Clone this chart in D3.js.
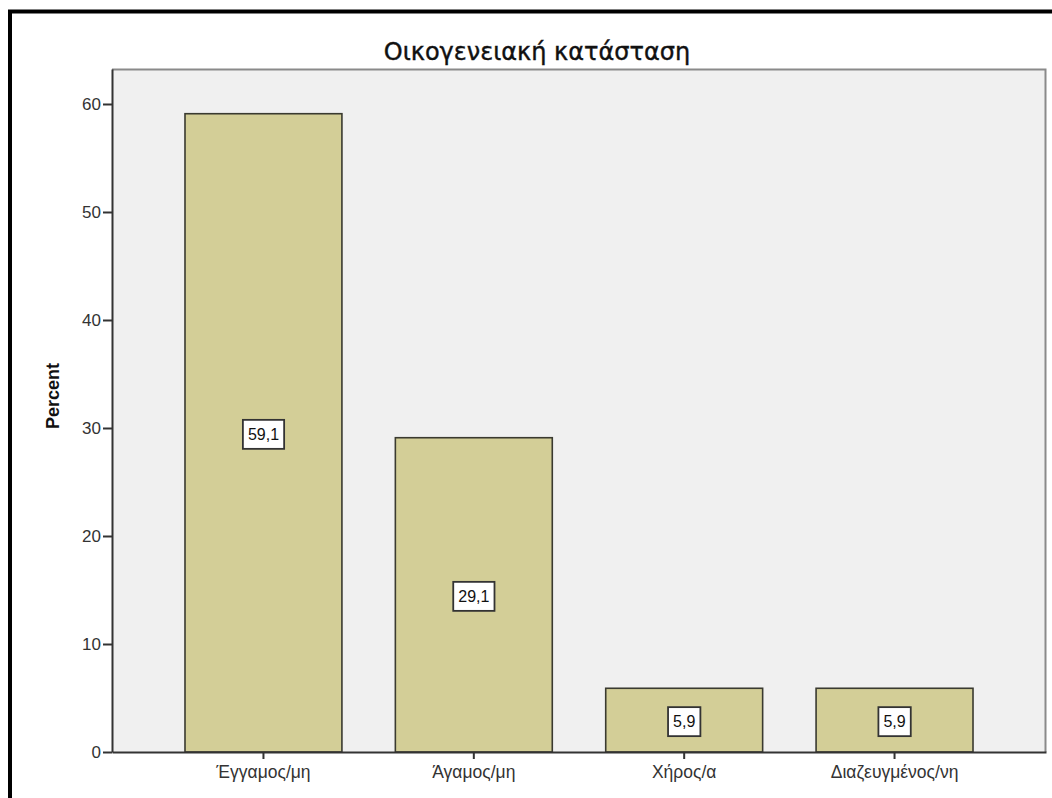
<!DOCTYPE html>
<html>
<head>
<meta charset="utf-8">
<script src="https://cdn.jsdelivr.net/npm/d3@7"></script>
<style>
  html, body { margin: 0; padding: 0; background: #fff; }
  svg { display: block; }
</style>
</head>
<body>
<svg id="chart" width="1052" height="798"></svg>
<script>
const categories = ["Έγγαμος/μη", "Άγαμος/μη", "Χήρος/α", "Διαζευγμένος/νη"];
const percentValues = [59.1, 29.1, 5.9, 5.9];
const valueLabels = ["59,1", "29,1", "5,9", "5,9"];
const yTickValues = [0, 10, 20, 30, 40, 50, 60];
const chartTitle = "Οικογενειακή κατάσταση";
const yAxisTitle = "Percent";

const svg = d3.select("#chart");
const W = 1052, H = 798;
const plot = { left: 112, right: 1046, top: 69, bottom: 752 };
const FONT = "Liberation Sans, Arial, sans-serif";

// outer frame
svg.append("rect")
  .attr("x", 10).attr("y", 11.5)
  .attr("width", W + 20).attr("height", H + 20)
  .attr("fill", "#fff").attr("stroke", "#000").attr("stroke-width", 4);

const x = d3.scaleBand()
  .domain(categories)
  .range([plot.left, plot.right])
  .paddingInner(0.254)
  .paddingOuter(0.347);

const y = d3.scaleLinear()
  .domain([0, 63.24])
  .range([plot.bottom, plot.top]);

// plot background
svg.append("rect")
  .attr("x", plot.left).attr("y", plot.top)
  .attr("width", plot.right - plot.left).attr("height", plot.bottom - plot.top)
  .attr("fill", "#f0f0f0");

// top & right border (gray)
svg.append("path")
  .attr("d", `M${plot.left},${plot.top + 0.5}H${plot.right - 0.5}V${plot.bottom}`)
  .attr("fill", "none").attr("stroke", "#8a8a8a").attr("stroke-width", 2);

// bars
const data = categories.map((c, i) => ({ c, v: percentValues[i], lab: valueLabels[i] }));
svg.append("g").selectAll("rect").data(data).join("rect")
  .attr("x", d => x(d.c))
  .attr("y", d => y(d.v))
  .attr("width", x.bandwidth())
  .attr("height", d => y(0) - y(d.v))
  .attr("fill", "#d3ce97")
  .attr("stroke", "#3a3a30")
  .attr("stroke-width", 1.6);

// value labels
const lg = svg.append("g").selectAll("g").data(data).join("g")
  .attr("transform", d => `translate(${x(d.c) + x.bandwidth() / 2},${(y(d.v) + y(0)) / 2 + 1.5})`);
lg.append("text")
  .attr("text-anchor", "middle")
  .attr("dy", "0.35em")
  .attr("font-family", FONT)
  .attr("font-size", 16)
  .attr("fill", "#111")
  .text(d => d.lab)
  .each(function () {
    const b = this.getBBox();
    d3.select(this.parentNode).insert("rect", "text")
      .attr("x", b.x - 5).attr("y", -14.5)
      .attr("width", b.width + 10).attr("height", 29)
      .attr("fill", "#fff").attr("stroke", "#333").attr("stroke-width", 1.8);
  });

// y axis
const yAxis = d3.axisLeft(y).tickValues(yTickValues).tickSize(9).tickSizeOuter(0).tickPadding(2).tickFormat(d3.format("d"));
const gy = svg.append("g").attr("transform", `translate(${plot.left},0)`).call(yAxis);
gy.select(".domain").attr("stroke", "#333").attr("stroke-width", 2);
gy.selectAll(".tick line").attr("stroke", "#333").attr("stroke-width", 2);
gy.selectAll(".tick text").attr("font-family", FONT)
  .attr("font-size", 17).attr("fill", "#333");

// x axis
const xAxis = d3.axisBottom(x).tickSize(7).tickPadding(7).tickSizeOuter(0);
const gx = svg.append("g").attr("transform", `translate(0,${plot.bottom})`).call(xAxis);
gx.select(".domain").attr("stroke", "#333").attr("stroke-width", 2);
gx.selectAll(".tick line").attr("stroke", "#333").attr("stroke-width", 2);
gx.selectAll(".tick text").attr("font-family", FONT)
  .attr("font-size", 17.5).attr("fill", "#333");

// title
svg.append("text")
  .attr("x", 537).attr("y", 60)
  .attr("text-anchor", "middle")
  .attr("font-family", "DejaVu Sans, Verdana, sans-serif")
  .attr("font-size", 24)
  .attr("fill", "#111")
  .attr("stroke", "#111")
  .attr("stroke-width", 0.4)
  .text(chartTitle);

// y axis title
svg.append("text")
  .attr("transform", "translate(59,396) rotate(-90)")
  .attr("text-anchor", "middle")
  .attr("font-family", FONT)
  .attr("font-size", 18)
  .attr("font-weight", "bold")
  .attr("fill", "#111")
  .text(yAxisTitle);
</script>
</body>
</html>
